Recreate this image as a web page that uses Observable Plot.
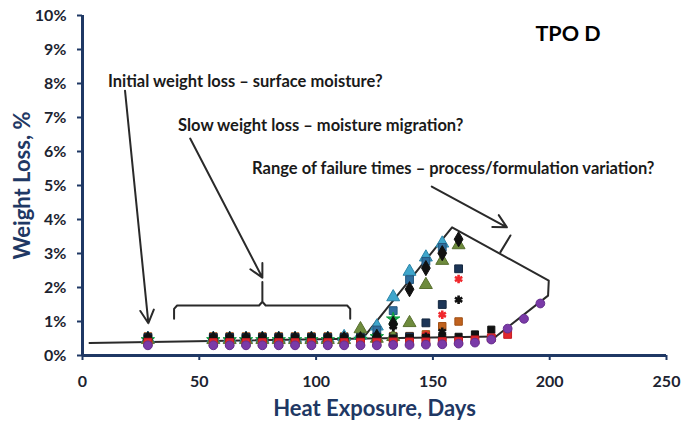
<!DOCTYPE html>
<html><head><meta charset="utf-8">
<script src="https://cdn.jsdelivr.net/npm/d3@7"></script>
<script src="https://cdn.jsdelivr.net/npm/@observablehq/plot@0.6"></script>
<style>
body{margin:0;background:#fff;}
#chart{width:681px;height:421px;overflow:hidden;}
</style>
</head><body><div id="chart"></div>
<script>
// ---- data (weight loss, %) ----
const days = [28,56,63,70,77,84,91,98,105,112,119,126,133,140,147,154,161,168,175,182,189,196];

const orangeSquare  = [0.56,0.56,0.56,0.56,0.56,0.56,0.56,0.56,0.56,0.56,0.56,0.56,0.57,0.57,0.62,0.86,1.00,null,null,null,null,null];
const tealTriangle  = [0.50,0.50,0.50,0.50,0.50,0.50,0.50,0.50,0.50,0.55,0.60,0.86,1.72,2.47,2.89,3.30,null,null,null,null,null,null];
const steelSquare   = [0.50,0.50,0.50,0.50,0.50,0.50,0.50,0.50,0.50,0.50,0.52,0.75,1.32,2.23,2.77,3.18,null,null,null,null,null,null];
const navySquare    = [0.53,0.53,0.53,0.53,0.53,0.53,0.53,0.53,0.53,0.53,0.53,0.54,0.54,0.55,0.96,1.50,2.55,null,null,null,null,null];
const oliveTriangle = [0.46,0.46,0.46,0.46,0.46,0.46,0.46,0.46,0.46,0.46,0.78,0.50,0.55,0.96,2.08,2.79,3.25,null,null,null,null,null];
const greenCircle   = [0.46,0.46,0.46,0.46,0.46,0.46,0.46,0.46,0.46,0.46,0.47,0.55,1.07,null,null,null,null,null,null,null,null,null];
const redStar       = [0.43,0.43,0.43,0.43,0.43,0.43,0.43,0.43,0.43,0.43,0.43,0.44,0.44,0.45,0.60,1.20,2.25,null,null,null,null,null];
const blackStar     = [0.46,0.46,0.46,0.46,0.46,0.46,0.46,0.46,0.46,0.46,0.46,0.47,0.85,0.50,0.55,0.70,1.64,null,null,null,null,null];
const blackCircle   = [0.50,0.50,0.50,0.50,0.50,0.50,0.50,0.50,0.50,0.50,0.50,0.50,0.50,0.51,0.52,0.53,0.55,0.62,0.76,null,null,null];
const blackDiamond  = [0.48,0.48,0.48,0.48,0.48,0.48,0.48,0.48,0.48,0.48,0.48,0.55,0.93,1.95,2.57,3.01,3.42,null,null,null,null,null];
const redSquare     = [0.39,0.38,0.38,0.38,0.38,0.38,0.38,0.38,0.38,0.38,0.39,0.39,0.40,0.40,0.40,0.41,0.42,0.46,0.52,0.62,null,null];
const purpleCircle  = [0.30,0.30,0.30,0.30,0.30,0.30,0.30,0.30,0.30,0.30,0.30,0.30,0.31,0.31,0.32,0.33,0.35,0.38,0.47,0.79,1.08,1.53];

const xTicks = [0,50,100,150,200,250];
const yTicks = [0,1,2,3,4,5,6,7,8,9,10];

// ---- annotation geometry (data coordinates: day, %) ----
const baselineLine = [{day:3,pct:0.37},{day:177,pct:0.56}];
const envelopeLine = [{day:120.5,pct:0.55},{day:158.2,pct:3.77},{day:199.6,pct:2.20},{day:199.3,pct:1.76},{day:177,pct:0.56}];
const braceTick    = [{day:178.9,pct:3.04},{day:183.2,pct:3.53}];
const slowBrace    = [{day:39.2,pct:1.08},{day:39.2,pct:1.37},{day:40.5,pct:1.47},{day:75.6,pct:1.47},{day:77.0,pct:1.58},{day:77.0,pct:2.16},{day:77.0,pct:1.58},{day:78.4,pct:1.47},{day:113.3,pct:1.47},{day:114.6,pct:1.37},{day:114.6,pct:1.08}];
const arrows = [
  {x1:18.2, y1:7.79, x2:28.2, y2:0.95},
  {x1:46.1, y1:6.38, x2:77.0, y2:2.29},
  {x1:149.5, y1:4.97, x2:181.7, y2:3.77}
];
const notes = [
  {day:10.9, pct:8.06, text:"Initial weight loss – surface moisture?"},
  {day:40.9, pct:6.76, text:"Slow weight loss – moisture migration?"},
  {day:72.6, pct:5.50, text:"Range of failure times – process/formulation variation?"}
];
const title = [{day:193.9, pct:9.44, text:"TPO D"}];

const series = [
  {v:orangeSquare,  symbol:"square",   fill:"#C0621E", stroke:"#A04F14", r:4.2},
  {v:tealTriangle,  symbol:"triangle", fill:"#3FA6CC", stroke:"#2D85A8", r:4.8},
  {v:steelSquare,   symbol:"square",   fill:"#2F6E9E", stroke:"#24577E", r:4.4},
  {v:navySquare,    symbol:"square",   fill:"#1C3557", stroke:"#14273F", r:4.4},
  {v:oliveTriangle, symbol:"triangle", fill:"#6E8B3D", stroke:"#58702F", r:4.8},
  {v:greenCircle,   symbol:"star",     fill:"#12B04A", stroke:"#0E9A3F", r:4.2},
  {v:redStar,       symbol:"asterisk", fill:"none",    stroke:"#F0282D", r:4.0, sw:2.6},
  {v:blackStar,     symbol:"asterisk", fill:"none",    stroke:"#111",    r:4.0, sw:2.6},
  {v:blackCircle,   symbol:"square",   fill:"#111",    stroke:"#111",    r:4.0},
  {v:blackDiamond,  symbol:"diamond",  fill:"#111",    stroke:"#111",    r:4.6},
  {v:redSquare,     symbol:"square",   fill:"#E3262C", stroke:"#C41E24", r:4.4},
  {v:purpleCircle,  symbol:"circle",   fill:"#7A3AA8", stroke:"#66308E", r:4.4}
];

const navy = "#1F3864";
const ink = "#1c2330";

const dotMarks = series.map(s => {
  const pts = days.map((d,i) => ({day:d, pct:s.v[i]})).filter(p => p.pct != null);
  return Plot.dot(pts, {x:"day", y:"pct", symbol:s.symbol, fill:s.fill, stroke:s.stroke, strokeWidth:s.sw || 1, r:s.r});
});

const lineStyle = {x:"day", y:"pct", stroke:"#2a2a2a", strokeWidth:2};

const chart = Plot.plot({
  width:681, height:421,
  marginLeft:82, marginRight:15, marginTop:15, marginBottom:66,
  style:{fontFamily:"Lato, 'Open Sans', sans-serif", background:"#fff"},
  x:{domain:[0,250]},
  y:{domain:[0,10]},
  marks:[
    Plot.axisX({ticks:xTicks, tickSize:5, tickPadding:15, fontSize:16, fontWeight:"bold", stroke:navy, strokeWidth:2, fill:ink, label:null}),
    Plot.axisY({ticks:yTicks, tickFormat:d=>d+"%", tickSize:5, tickPadding:11, fontSize:16, fontWeight:"bold", stroke:navy, strokeWidth:2, fill:ink, label:null}),
    Plot.line(baselineLine, lineStyle),
    Plot.line(envelopeLine, lineStyle),
    Plot.line(braceTick, lineStyle),
    Plot.line(slowBrace, lineStyle),
    ...dotMarks,
    Plot.arrow(arrows, {x1:"x1", y1:"y1", x2:"x2", y2:"y2", stroke:"#2a2a2a", strokeWidth:2, headLength:11, headAngle:55}),
    Plot.ruleY([0], {stroke:navy, strokeWidth:3}),
    Plot.ruleX([0], {stroke:navy, strokeWidth:3}),
    Plot.text(notes, {x:"day", y:"pct", text:"text", textAnchor:"start", fontSize:16.5, fontWeight:"bold", fill:"#1a1a1a"}),
    Plot.text(title, {x:"day", y:"pct", text:"text", textAnchor:"start", fontSize:21.5, fontWeight:"bold", fill:"#000"}),
    Plot.text(["Heat Exposure, Days"], {frameAnchor:"bottom", textAnchor:"middle", lineAnchor:"middle", dy:53, fontSize:22, fontWeight:"bold", fill:navy}),
    Plot.text(["Weight Loss, %"], {frameAnchor:"left", textAnchor:"middle", lineAnchor:"middle", dx:-60, rotate:-90, fontSize:22, fontWeight:"bold", fill:navy})
  ]
});
document.getElementById("chart").appendChild(chart);
</script>
</body></html>
